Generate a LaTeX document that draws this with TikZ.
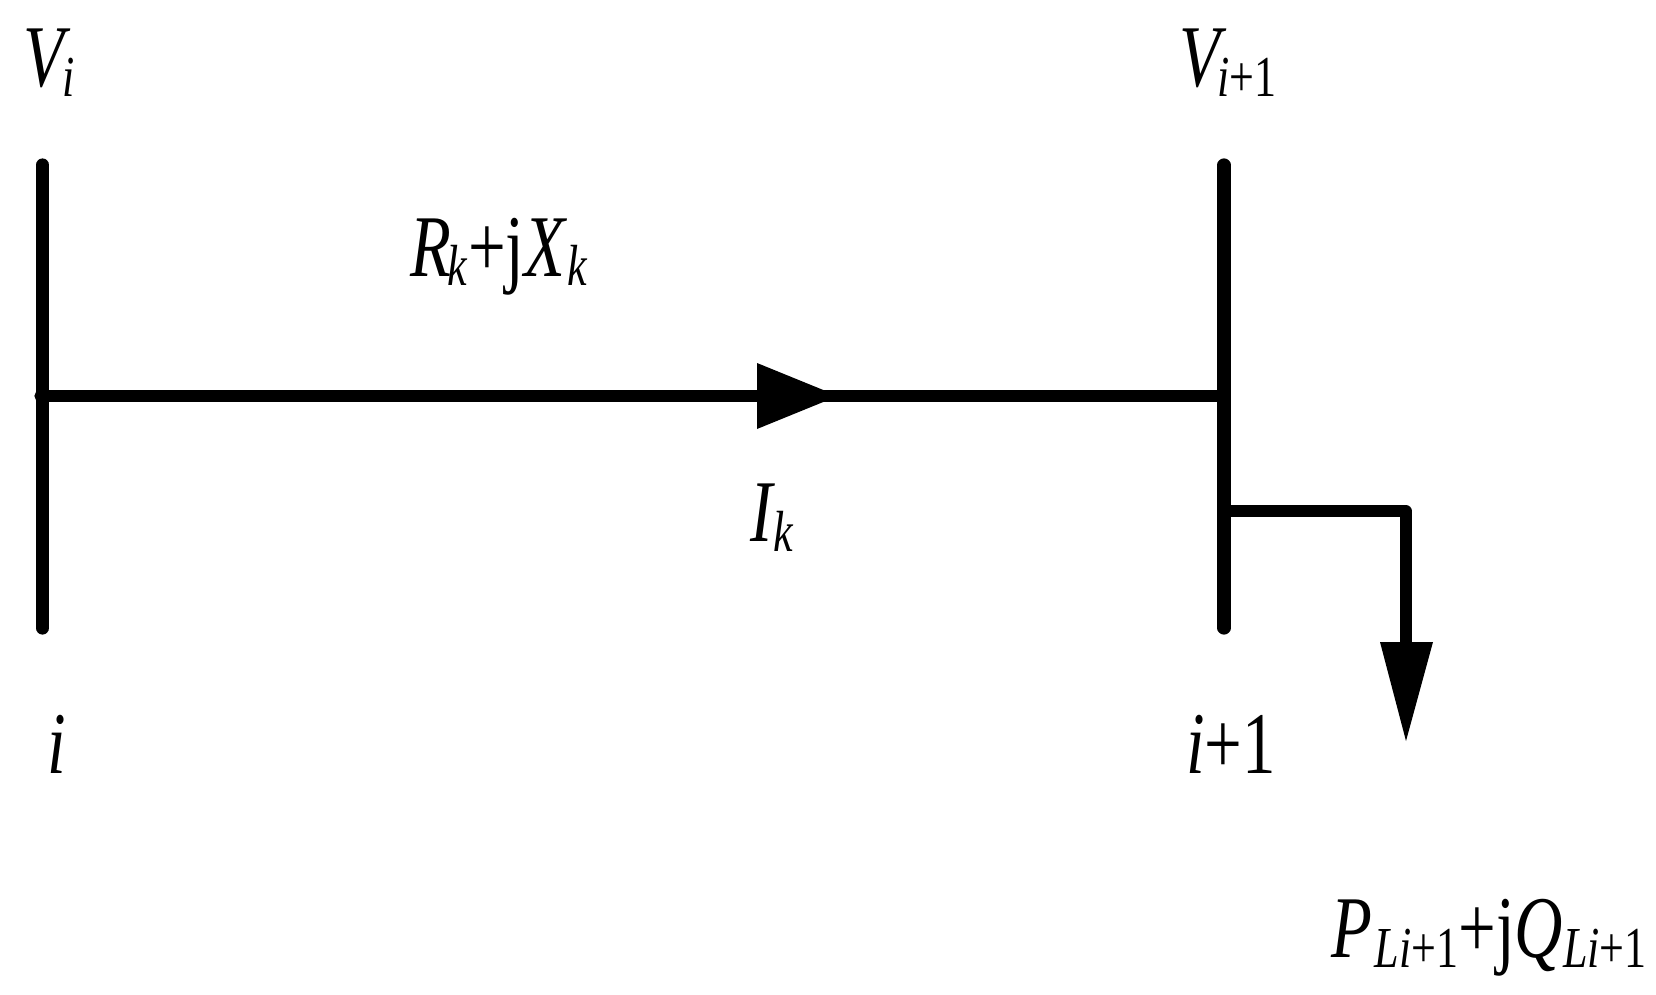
\documentclass[tikz,border=0pt]{standalone}
\usepackage{graphicx}
\usepackage{fontspec}
\setmainfont{Liberation Serif}
\newcommand{\Lg}{\fontsize{44}{44}\selectfont}
\newcommand{\Sm}{\fontsize{29}{29}\selectfont}
\newcommand{\Sbb}[2][0pt]{\kern#1\raisebox{-5pt}{\Sm #2}}
\newcommand{\Nar}[1]{\scalebox{0.76}[1]{\Lg #1}}
\tikzset{
  lbl/.style={anchor=base west,inner sep=0pt,outer sep=0pt,text=black},
  busbar/.style={line width=6.6pt,line cap=round,black},
  wire/.style={line width=5.6pt,black},
  tip/.style={fill=black,draw=none}
}
\begin{document}
\begin{tikzpicture}[x=0.5pt,y=-0.5pt]
\useasboundingbox (0,0) rectangle (1656,995);
\coordinate (bitop) at (42.5,165);
\coordinate (bibot) at (42.5,628);
\coordinate (bjtop) at (1224,165);
\coordinate (bjbot) at (1224,628);
\coordinate (ls) at (40,396);
\coordinate (le) at (1224,396);
\coordinate (ta) at (757,363);
\coordinate (tb) at (757,429);
\coordinate (tc) at (838,396);
\coordinate (bs) at (1224,511);
\coordinate (bc) at (1406,511);
\coordinate (be) at (1406,650);
\coordinate (da) at (1380,642);
\coordinate (db) at (1433,642);
\coordinate (dc) at (1406,741);
\draw[busbar] (bitop) -- (bibot);
\draw[busbar] (bjtop) -- (bjbot);
\draw[wire,line cap=round] (ls) -- (le);
\fill[tip] (ta) -- (tc) -- (tb) -- cycle;
\draw[wire,line join=round] (bs) -- (bc) -- (be);
\fill[tip] (da) -- (db) -- (dc) -- cycle;
\node[lbl] (vi) at (24,87) {\Nar{\textit{V}\Sbb[-6pt]{\textit{i}}}};
\node[lbl] (vj) at (1179,87) {\Nar{\textit{V}\Sbb[-6pt]{\textit{i}+1}}};
\node[lbl] (z) at (410,276) {\Nar{\textit{R}\Sbb[-2pt]{\textit{k}}+j\textit{X}\Sbb[0pt]{\textit{k}}}};
\node[lbl] (ik) at (750,541) {\Nar{\textit{I}\Sbb[-1pt]{\textit{k}}}};
\node[lbl] (ni) at (47,773) {\Nar{\textit{i}}};
\node[lbl] (nj) at (1186,773) {\Nar{\textit{i}+1}};
\node[lbl] (pq) at (1331,957) {\Nar{\textit{P}\Sbb[2pt]{\textit{Li}+1}+j\textit{Q}\Sbb[0pt]{\textit{Li}+1}}};
\end{tikzpicture}
\end{document}
